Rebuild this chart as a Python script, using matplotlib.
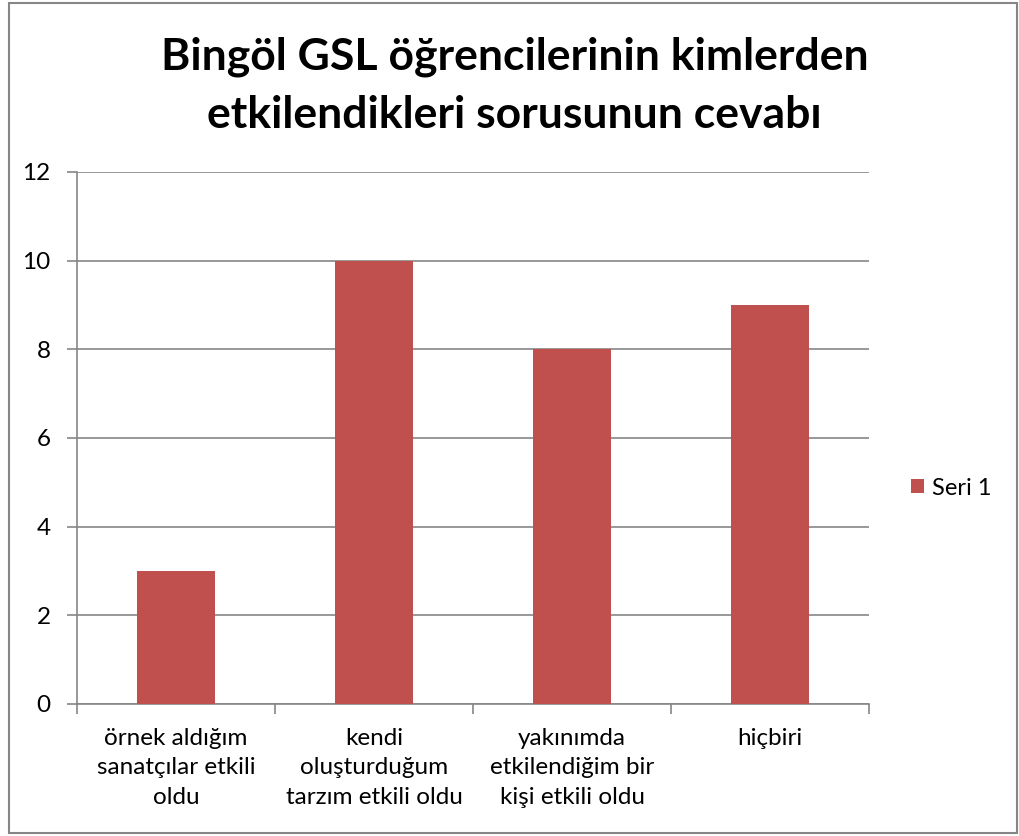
import matplotlib.pyplot as plt
from matplotlib.patches import Rectangle

# chart data
categories = ["örnek aldığım\nsanatçılar etkili\noldu",
              "kendi\noluşturduğum\ntarzım etkili oldu",
              "yakınımda\netkilendiğim bir\nkişi etkili oldu",
              "hiçbiri"]
values = [3, 10, 8, 9]
series_name = "Seri 1"
title = "Bingöl GSL öğrencilerinin kimlerden\netkilendikleri sorusunun cevabı"

plt.rcParams['font.family'] = ['Lato', 'DejaVu Sans']

fig = plt.figure(figsize=(10.19, 8.36), dpi=100)
ax = fig.add_axes([77 / 1019, 1 - 704 / 836, (869 - 77) / 1019, (704 - 172) / 836])

x = range(len(categories))
ax.bar(x, values, width=0.39, color='#c0504d', label=series_name, zorder=3)

ax.set_xlim(-0.5, len(categories) - 0.5)
ax.set_ylim(0, 12)
ax.set_yticks(range(0, 13, 2))
ax.set_xticks([i + 0.5 for i in range(-1, len(categories))], minor=False)
ax.set_xticklabels([])
ax.set_xticks(list(x), minor=True)
ax.set_xticklabels(categories, minor=True, fontsize=17.5, linespacing=1.5)
ax.tick_params(axis='x', which='minor', length=0, pad=17)
ax.tick_params(axis='x', which='major', length=7, color='#868686', width=1.2)
ax.tick_params(axis='y', length=7, color='#868686', width=1.2, labelsize=17.5, pad=12)

ax.grid(axis='y', color='#868686', linewidth=1.2, zorder=0)
for s in ['top', 'right']:
    ax.spines[s].set_visible(False)
for s in ['left', 'bottom']:
    ax.spines[s].set_color('#868686')
    ax.spines[s].set_linewidth(1.2)

fig.text(0.505, 1 - 86 / 836, title, ha='center', va='center', fontsize=32,
         fontweight='bold', linespacing=1.55)

fig.legend(loc='center left', bbox_to_anchor=(890 / 1019, 1 - 488 / 836),
           frameon=False, fontsize=17, handlelength=0.55, handleheight=0.55,
           handletextpad=0.35)

fig.patches.append(Rectangle((9 / 1019, 3 / 836), 1008 / 1019, 830 / 836,
                             transform=fig.transFigure, fill=False,
                             edgecolor='#868686', linewidth=1.5))

fig.savefig('out.png', dpi=100)
